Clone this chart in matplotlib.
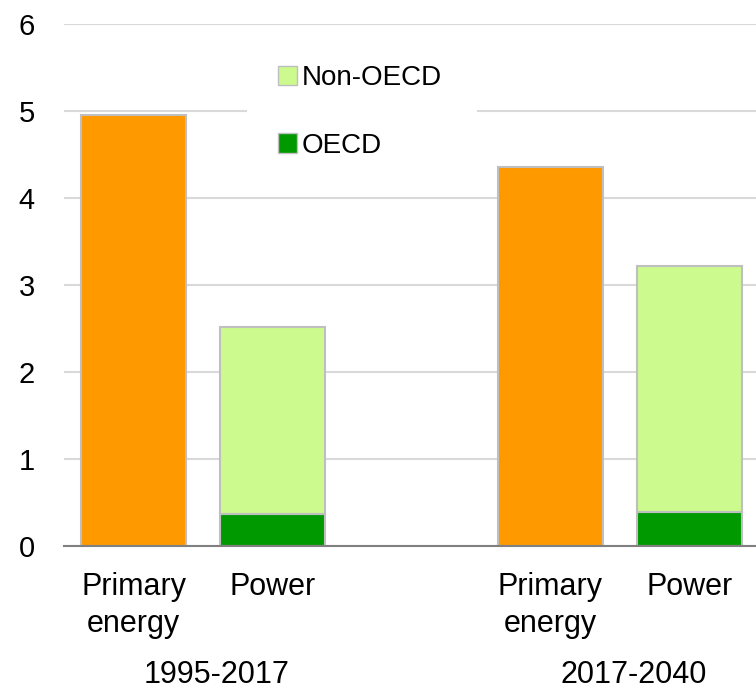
import matplotlib
matplotlib.use("Agg")
import matplotlib.pyplot as plt
import matplotlib.transforms as mtransforms
from matplotlib.patches import Rectangle, Patch
import numpy as np

# ---- data ----
categories = ["Primary\nenergy", "Power", "", "Primary\nenergy", "Power"]
groups = ["1995-2017", "2017-2040"]
primary_energy = [4.95, None, None, 4.36, None]
oecd = [None, 0.37, None, None, 0.39]
non_oecd = [None, 2.15, None, None, 2.83]
yticks = [0, 1, 2, 3, 4, 5, 6]

C_ORANGE = "#FF9900"
C_LIGHT = "#CCFA8E"
C_DARK = "#009900"
EDGE = "#BFBFBF"

plt.rcParams["font.family"] = ["Liberation Sans", "DejaVu Sans"]

W, H = 756, 689
fig = plt.figure(figsize=(W / 100, H / 100), dpi=100)
ax = fig.add_axes([64 / W, (H - 546) / H, 695 / W, 522 / H])

x = np.arange(len(categories))
bw = 0.755

for i in range(len(categories)):
    if primary_energy[i] is not None:
        ax.bar(x[i], primary_energy[i], width=bw, color=C_ORANGE, edgecolor=EDGE,
               linewidth=1.5, zorder=3)
    if oecd[i] is not None:
        ax.bar(x[i], oecd[i], width=bw, color=C_DARK, edgecolor=EDGE,
               linewidth=1.5, zorder=3)
        ax.bar(x[i], non_oecd[i], bottom=oecd[i], width=bw, color=C_LIGHT,
               edgecolor=EDGE, linewidth=1.5, zorder=3)

ax.set_xlim(-0.5, len(categories) - 0.5)
ax.set_ylim(0, 6)
ax.set_yticks(yticks)
ax.set_yticklabels([str(v) for v in yticks], fontsize=21)
ax.tick_params(axis="y", length=0, pad=21)
for lbl in ax.get_yticklabels():
    lbl.set_verticalalignment("center_baseline")

ax.set_xticks(x)
ax.set_xticklabels(categories, fontsize=22, linespacing=1.3)
ax.tick_params(axis="x", length=0, pad=19)

ax.grid(axis="y", color="#D9D9D9", linewidth=1.5, zorder=0.5)
ax.set_axisbelow(True)
for s in ["top", "right", "left"]:
    ax.spines[s].set_visible(False)
ax.spines["bottom"].set_color("#808080")
ax.spines["bottom"].set_linewidth(1.5)
ax.spines["bottom"].set_zorder(4)

# group labels
tr = mtransforms.blended_transform_factory(ax.transData, fig.transFigure)
for gi, g in enumerate(groups):
    xc = (x[gi * 3] + x[gi * 3 + 1]) / 2 + 0.1
    ax.text(xc, 6 / H, g, transform=tr, ha="center", va="baseline", fontsize=22)

# legend background
fig.patches.append(Rectangle((247 / W, (H - 180) / H), 230 / W, 125 / H,
                             transform=fig.transFigure, facecolor="white",
                             edgecolor="none", zorder=2))
ax.set_zorder(1)
handles = [Patch(facecolor=C_LIGHT, edgecolor=EDGE, label="Non-OECD"),
           Patch(facecolor=C_DARK, edgecolor=EDGE, label="OECD")]
leg = fig.legend(handles=handles, loc="upper left",
                 bbox_to_anchor=(278 / W, (H - 65) / H),
                 frameon=False, fontsize=20, handlelength=0.7, handleheight=0.7,
                 handletextpad=0.15, labelspacing=1.5, borderpad=0, borderaxespad=0)
leg.set_zorder(10)

fig.savefig("out.png", dpi=100)
